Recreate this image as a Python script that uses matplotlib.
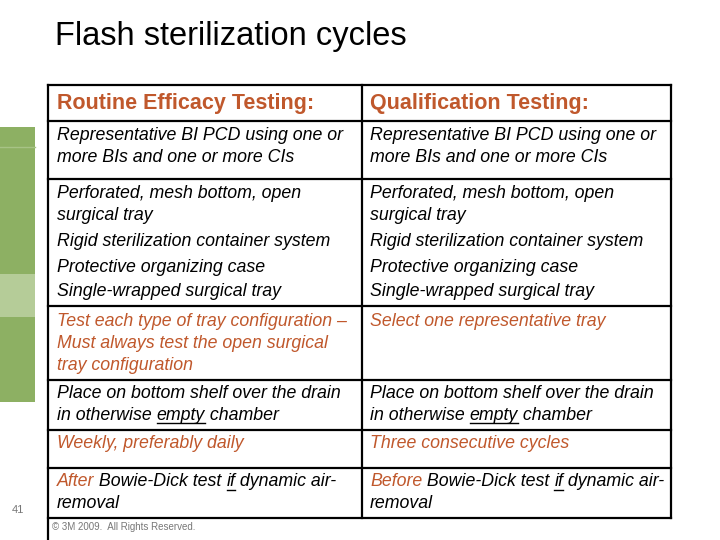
import matplotlib.pyplot as plt
from matplotlib.patches import Rectangle

plt.rcParams["font.family"] = ["Liberation Sans", "DejaVu Sans"]

ORANGE = "#c0582c"
W, H = 720, 540

title = "Flash sterilization cycles"
headers = ["Routine Efficacy Testing:", "Qualification Testing:"]

# each cell: list of lines, each line a list of (text, colour, underline)
K, O = "k", ORANGE
left_cells = [
    [[("Representative BI PCD using one or", K, False)],
     [("more BIs and one or more CIs", K, False)]],
    [[("Perforated, mesh bottom, open", K, False)],
     [("surgical tray", K, False)],
     [("Rigid sterilization container system", K, False)],
     [("Protective organizing case", K, False)],
     [("Single-wrapped surgical tray", K, False)]],
    [[("Test each type of tray configuration \u2013", O, False)],
     [("Must always test the open surgical", O, False)],
     [("tray configuration", O, False)]],
    [[("Place on bottom shelf over the drain", K, False)],
     [("in otherwise ", K, False), ("empty", K, True), (" chamber", K, False)]],
    [[("Weekly, preferably daily", O, False)]],
    [[("After", O, False), (" Bowie-Dick test ", K, False), ("if", K, True),
      (" dynamic air-", K, False)],
     [("removal", K, False)]],
]
right_cells = [
    left_cells[0],
    left_cells[1],
    [[("Select one representative tray", O, False)]],
    left_cells[3],
    [[("Three consecutive cycles", O, False)]],
    [[("Before", O, False), (" Bowie-Dick test ", K, False), ("if", K, True),
      (" dynamic air-", K, False)],
     [("removal", K, False)]],
]

row_edges = [85, 121, 179, 306, 380, 430, 468, 518]
line_y = [[136, 157], [193, 215, 241, 267, 292], [321, 343, 365],
          [394, 415], [444], [482, 504]]
col_x = [48, 362, 671]

fig = plt.figure(figsize=(7.2, 5.4), dpi=100)
ax = fig.add_axes([0, 0, 1, 1])
ax.set_xlim(0, W)
ax.set_ylim(H, 0)
ax.axis("off")

# green strip at the left edge
ax.add_patch(Rectangle((0, 127), 35, 147, color="#8db063", lw=0))
ax.add_patch(Rectangle((0, 274), 35, 43, color="#b5cc98", lw=0))
ax.add_patch(Rectangle((0, 317), 35, 85, color="#8db063", lw=0))
ax.plot([0, 35], [147, 147], color="#a7c386", lw=1)

ax.text(55, 37, title, fontsize=23.5, va="center", ha="left")

# table grid
lw = 1.6
for y in row_edges:
    ax.plot([col_x[0], col_x[2]], [y, y], color="k", lw=lw)
ax.plot([col_x[0], col_x[0]], [row_edges[0], H], color="k", lw=lw)
for x in col_x[1:]:
    ax.plot([x, x], [row_edges[0], row_edges[-1]], color="k", lw=lw)

for x, h in zip([57, 370], headers):
    ax.text(x, 104, h, fontsize=15.5, fontweight="bold", color=ORANGE,
            va="center", ha="left")

fig.canvas.draw()
renderer = fig.canvas.get_renderer()
inv = ax.transData.inverted()


def draw_line(x, y, segments):
    for txt, col, under in segments:
        t = ax.text(x, y, txt, fontsize=12.8, style="italic", color=col,
                    va="center", ha="left")
        bb = t.get_window_extent(renderer)
        (x0, _), (x1, _) = inv.transform([[bb.x0, bb.y0], [bb.x1, bb.y1]])
        if under:
            ax.plot([x0, x1], [y + 8, y + 8], color=col, lw=1)
        x = x1


for cells, x in [(left_cells, 57), (right_cells, 370)]:
    for cell, ys in zip(cells, line_y):
        for segs, y in zip(cell, ys):
            draw_line(x, y, segs)

ax.text(18, 510, "41", fontsize=8, color="#777777", va="center", ha="center")
ax.text(52, 527, "\u00a9 3M 2009.  All Rights Reserved.", fontsize=7,
        color="#777777", va="center", ha="left")

fig.savefig("out.png", dpi=100)
